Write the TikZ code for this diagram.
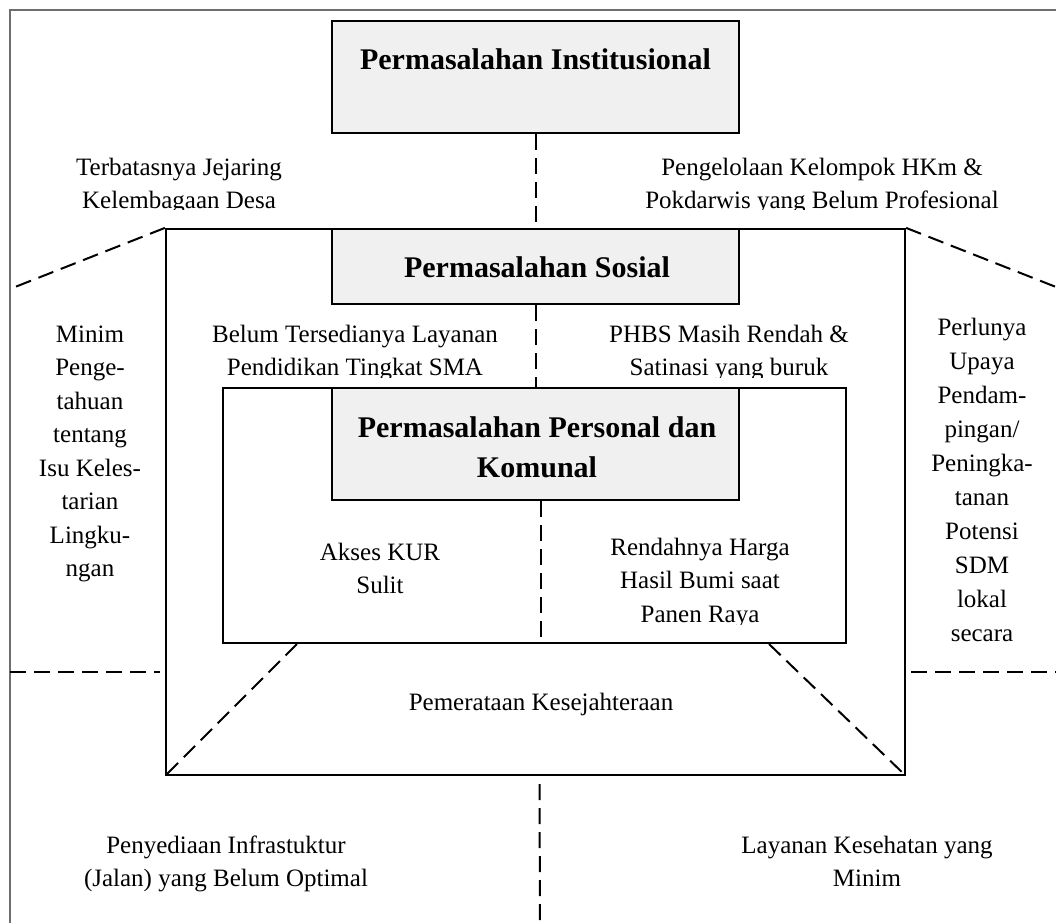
\documentclass[tikz,border=0pt]{standalone}
\usepackage{fontspec}
\setmainfont{Liberation Serif}
\definecolor{boxgray}{RGB}{240,240,240}
\definecolor{framegray}{RGB}{110,110,110}
\newcommand{\mlines}[2]{\parbox[t]{#1pt}{\centering #2}}
\tikzset{
  txt/.style={anchor=base, inner sep=0pt, font=\fontsize{25}{33.5}\selectfont},
  txtr/.style={anchor=base, inner sep=0pt, font=\fontsize{25}{34}\selectfont},
  ttl/.style={anchor=base, inner sep=0pt, font=\fontsize{30}{40}\selectfont\bfseries},
  box/.style={draw, line width=2.2pt, inner sep=0pt},
  gbox/.style={box, fill=boxgray},
  dsh/.style={line width=2pt, dash pattern=on 16pt off 8pt},
  frm/.style={draw=framegray, line width=1.5pt}
}
\begin{document}
\begin{tikzpicture}[x=1pt,y=-1pt]
\useasboundingbox (0,0) rectangle (1056,923);
% outer frame
\coordinate (fbl) at (10,923);
\coordinate (ftl) at (10,10);
\coordinate (ftr) at (1056,10);
\draw[frm] (fbl) -- (ftl) -- (ftr);

% boxes
\node[box, minimum width=739pt, minimum height=546pt] (big) at (535.5,502) {};
\node[gbox, minimum width=407pt, minimum height=112pt] (inst) at (535.5,77) {};
\node[gbox, minimum width=407pt, minimum height=75pt] (sos) at (535.5,266.5) {};
\node[box, minimum width=623pt, minimum height=255pt] (inner) at (534.5,515.5) {};
\node[gbox, minimum width=407pt, minimum height=112pt] (pers) at (535.5,444) {};

% titles
\node[ttl] (instT) at (535.5,70) {Permasalahan Institusional};
\node[ttl] (sosT) at (537,277) {Permasalahan Sosial};
\node[ttl] (persT) at (537,437) {\mlines{420}{Permasalahan Personal dan\\Komunal}};

% dashed connectors
\draw[dsh] (inst.south) -- (sos.north);
\draw[dsh] (sos.south) -- (pers.north);
\coordinate (c1) at ([xshift=5pt]pers.south);
\draw[dsh] (c1) -- (c1 |- inner.south);
\coordinate (c2) at ([xshift=4pt,yshift=-8pt]big.south);
\coordinate (c2b) at (540,923);
\draw[dsh] (c2) -- (c2b);
\coordinate (lt) at (15,287);
\draw[dsh] (big.north west) -- (lt);
\coordinate (rt) at (1056,287);
\draw[dsh] (big.north east) -- (rt);
\coordinate (ibl) at ([xshift=75pt]inner.south west);
\draw[dsh] (ibl) -- (big.south west);
\coordinate (ibr) at ([xshift=-78pt]inner.south east);
\draw[dsh] (ibr) -- (big.south east);
\coordinate (hl1) at (10,672);
\coordinate (hl2) at (160,672);
\draw[dsh] (hl1) -- (hl2);
\coordinate (hr1) at (911,672);
\coordinate (hr2) at (1056,672);
\draw[dsh] (hr1) -- (hr2);

% texts
\begin{scope}
\clip (40,130) rectangle (330,209);
\node[txt] (t1) at (179,175) {\mlines{300}{Terbatasnya Jejaring\\Kelembagaan Desa}};
\end{scope}
\begin{scope}
\clip (620,130) rectangle (1040,209);
\node[txt] (t2) at (822,175) {\mlines{420}{Pengelolaan Kelompok HKm \&\\Pokdarwis yang Belum Profesional}};
\end{scope}
\node[txt] (t3) at (90,342) {\mlines{150}{Minim\\Penge-\\tahuan\\tentang\\Isu Keles-\\tarian\\Lingku-\\ngan}};
\begin{scope}
\clip (180,310) rectangle (530,377);
\node[txt] (t4) at (355,342) {\mlines{340}{Belum Tersedianya Layanan\\Pendidikan Tingkat SMA}};
\end{scope}
\begin{scope}
\clip (560,310) rectangle (900,377);
\node[txt] (t5) at (729,342) {\mlines{320}{PHBS Masih Rendah \&\\Satinasi yang buruk}};
\end{scope}
\begin{scope}
\clip (907,300) rectangle (1056,643);
\node[txtr] (t6) at (982,335) {\mlines{148}{Perlunya\\Upaya\\Pendam-\\pingan/\\Peningka-\\tanan\\Potensi\\SDM\\lokal\\secara}};
\end{scope}
\node[txt] (t7) at (380,560) {\mlines{200}{Akses KUR\\Sulit}};
\begin{scope}
\clip (560,520) rectangle (840,624);
\node[txt] (t8) at (700,555) {\mlines{260}{Rendahnya Harga\\Hasil Bumi saat\\Panen Raya}};
\end{scope}
\node[txt] (t9) at (541,710) {Pemerataan Kesejahteraan};
\node[txt] (t10) at (226,853) {\mlines{380}{Penyediaan Infrastuktur\\(Jalan) yang Belum Optimal}};
\node[txt] (t11) at (867,853) {\mlines{340}{Layanan Kesehatan yang\\Minim}};
\end{tikzpicture}
\end{document}
